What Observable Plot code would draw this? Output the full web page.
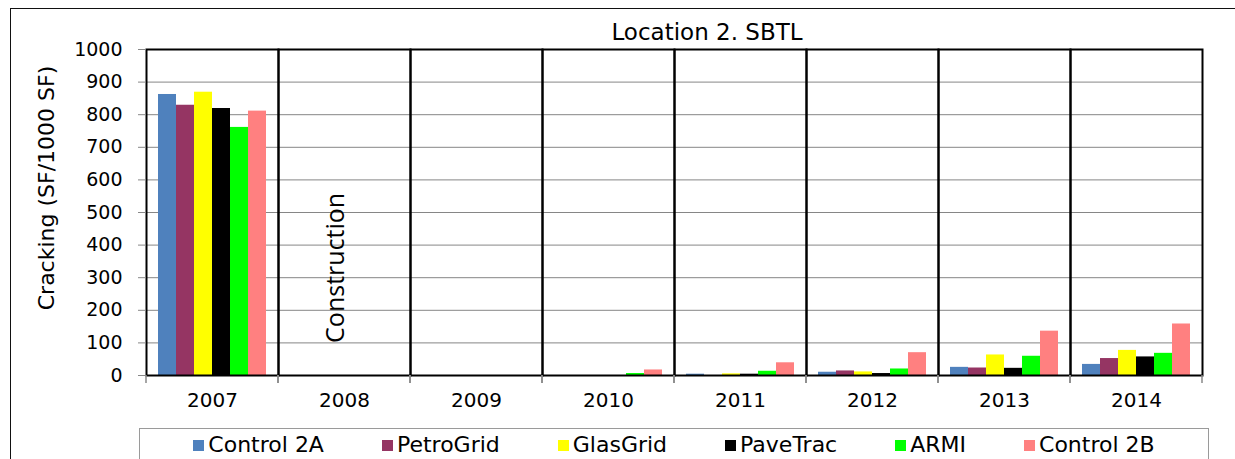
<!DOCTYPE html>
<html>
<head>
<meta charset="utf-8">
<script src="https://cdn.jsdelivr.net/npm/d3@7"></script>
<script src="https://cdn.jsdelivr.net/npm/@observablehq/plot@0.6"></script>
<style>
  body { margin: 0; background: #fff; }
  #wrap { position: relative; width: 1235px; height: 459px; overflow: hidden; font-family: "DejaVu Sans", sans-serif; color: #000; }
  #outer { position: absolute; left: 10px; top: 8px; width: 1400px; height: 600px; border-left: 1.5px solid #111; border-top: 1.5px solid #111; pointer-events: none; }
  #chart { position: absolute; left: 0; top: 0; }
  #title { position: absolute; left: 707px; top: 21px; transform: translateX(-50%); font-size: 23px; line-height: 22px; white-space: nowrap; }
  #ylabel { position: absolute; left: 47px; top: 188px; transform: translate(-50%, -50%) rotate(-90deg); font-size: 22px; line-height: 22px; white-space: nowrap; }
  #legend { position: absolute; left: 139px; top: 428px; width: 1070px; height: 60px; border: 1px solid #9a9a9a; box-sizing: border-box;
            display: flex; justify-content: center; gap: 58px; align-items: flex-start; padding-top: 4px; }
  .item { display: flex; align-items: center; font-size: 22px; line-height: 24px; white-space: nowrap; }
  .sw { width: 11px; height: 11px; margin-right: 4px; }
</style>
</head>
<body>
<div id="wrap">
  <div id="chart"></div>
  <div id="outer"></div>
  <div id="title"></div>
  <div id="ylabel"></div>
  <div id="legend"></div>
</div>
<script>
// ---- data ----
const years = [2007, 2008, 2009, 2010, 2011, 2012, 2013, 2014];
const series = ["Control 2A", "PetroGrid", "GlasGrid", "PaveTrac", "ARMI", "Control 2B"];
const colors = ["#4F81BD", "#953563", "#FFFF00", "#000000", "#00FF00", "#FF8080"];
const control2A = [862, 0, 0, 0, 4, 10, 25, 34];
const petroGrid = [829, 0, 0, 0, 0, 14, 23, 52];
const glasGrid  = [869, 0, 0, 0, 5, 11, 63, 77];
const paveTrac  = [819, 0, 0, 0, 4, 6, 22, 57];
const armi      = [761, 0, 0, 6, 13, 20, 59, 68];
const control2B = [811, 0, 0, 17, 39, 70, 136, 158];
const yTicks = [0, 100, 200, 300, 400, 500, 600, 700, 800, 900, 1000];
const titleText = "Location 2. SBTL";
const yLabelText = "Cracking (SF/1000 SF)";
const notes = [{year: 2008, label: "Construction", value: 100}];

const valuesBySeries = [control2A, petroGrid, glasGrid, paveTrac, armi, control2B];
const data = years.flatMap((yr, i) => series.map((s, j) => ({year: yr, series: s, value: valuesBySeries[j][i]})));

// small tick marks below the axis at the category boundaries
function boundaryTicks(index, scales, values, dimensions) {
  const {width, height, marginLeft, marginRight, marginBottom} = dimensions;
  const y0 = height - marginBottom;
  let xs;
  if (scales.fx && width > 600) {
    xs = years.map(yr => scales.fx(yr));
    xs.push(scales.fx(years[years.length - 1]) + scales.fx.bandwidth());
  } else {
    xs = [marginLeft, width - marginRight];
  }
  const g = d3.create("svg:g");
  for (const x of xs) {
    g.append("line").attr("x1", x).attr("x2", x).attr("y1", y0).attr("y2", y0 + 8)
      .attr("stroke", "#888").attr("stroke-width", 1.5);
  }
  return g.node();
}

const chart = Plot.plot({
  width: 1235,
  height: 425,
  marginLeft: 142,
  marginRight: 30,
  marginTop: 49,
  marginBottom: 50,
  style: {fontFamily: "DejaVu Sans", background: "transparent", color: "#000"},
  fx: {domain: years, padding: 0, label: null},
  x: {domain: series, paddingInner: 0, paddingOuter: 0.65, axis: null},
  y: {domain: [0, 1000], label: null},
  color: {domain: series, range: colors},
  marks: [
    Plot.gridY(yTicks, {stroke: "#868686", strokeOpacity: 1, strokeWidth: 1}),
    Plot.barY(data, {fx: "year", x: "series", y: "value", fill: "series"}),
    Plot.frame({stroke: "#000", strokeWidth: 2}),
    boundaryTicks,
    Plot.axisY(yTicks, {tickSize: 8, tickPadding: 16, stroke: "#888", fill: "#000", fontSize: 19, label: null,
                        tickFormat: d => String(d)}),
    Plot.axisFx({anchor: "bottom", tickSize: 0, tickPadding: 17, fontSize: 20, label: null, fill: "#000",
                 tickFormat: d => String(d)}),
    Plot.text(notes, {fx: "year", y: "value", text: "label", rotate: -90, textAnchor: "start", dx: -9,
                      fontFamily: "Open Sans", fontSize: 25, fill: "#000"})
  ]
});
document.getElementById("chart").appendChild(chart);
document.getElementById("title").textContent = titleText;
document.getElementById("ylabel").textContent = yLabelText;

const legend = document.getElementById("legend");
series.forEach((s, i) => {
  const item = document.createElement("div");
  item.className = "item";
  const sw = document.createElement("div");
  sw.className = "sw";
  sw.style.background = colors[i];
  item.appendChild(sw);
  item.appendChild(document.createTextNode(s));
  legend.appendChild(item);
});
</script>
</body>
</html>
